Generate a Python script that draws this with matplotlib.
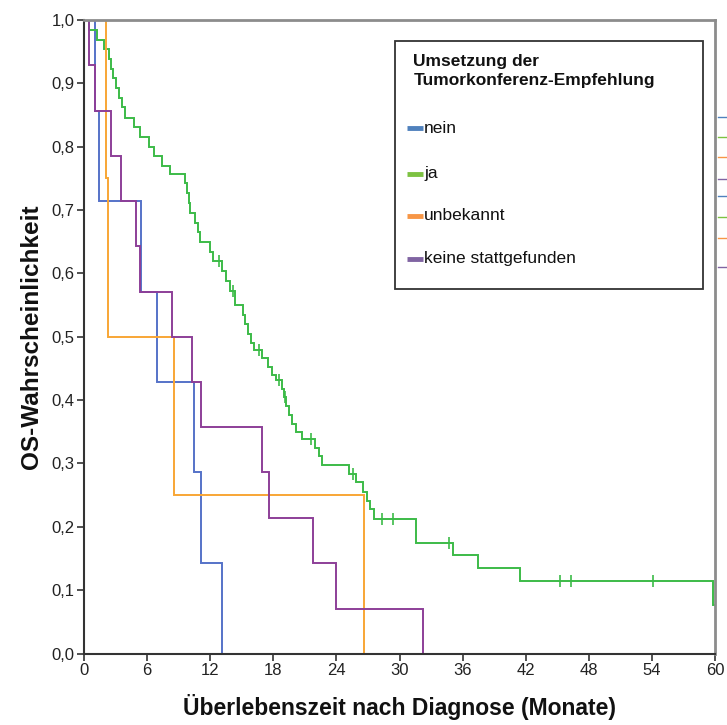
import numpy as np
import matplotlib
matplotlib.use("Agg")
import matplotlib.pyplot as plt
from matplotlib.lines import Line2D
from matplotlib.patches import Rectangle

plt.rcParams["font.family"] = ["Liberation Sans", "DejaVu Sans"]

# Kaplan-Meier steps (months, survival after the drop)
nein_t = [0, 1.0, 1.4, 5.4, 6.9, 10.5, 11.1, 13.1]
nein_s = [1.0, 0.857, 0.714, 0.571, 0.429, 0.286, 0.143, 0.0]

unbek_t = [0, 2.1, 2.3, 8.6, 26.6]
unbek_s = [1.0, 0.75, 0.5, 0.25, 0.0]

keine_t = [0, 0.45, 1.0, 2.6, 3.55, 4.9, 5.35, 8.4, 10.3, 11.1, 16.9, 17.6, 21.8, 24.0, 32.2]
keine_s = [1.0, 0.929, 0.857, 0.786, 0.714, 0.643, 0.571, 0.5, 0.429, 0.357, 0.286, 0.214,
           0.143, 0.071, 0.0]

ja_t = [0, 0.5, 1.2, 1.9, 2.4, 2.6, 2.8, 3.0, 3.3, 3.6, 3.9, 4.8, 5.3, 6.2, 6.7, 7.4, 8.2,
        9.6, 9.8, 9.95, 10.1, 10.6, 10.8, 11.0, 12.0, 12.3, 13.1, 13.5, 13.9, 14.35,
        15.1, 15.3, 15.6, 15.9, 16.2, 16.9, 17.5, 17.9, 18.3, 18.8, 19.0, 19.2, 19.5, 19.8,
        20.2, 20.7, 22.0, 22.3, 22.6, 25.2, 25.9, 26.5, 26.9, 27.2, 27.6, 31.6, 35.1, 37.5,
        41.5, 59.8, 60.0]
ja_s = [1.0, 0.985, 0.969, 0.954, 0.938, 0.923, 0.908, 0.892, 0.877, 0.862, 0.846, 0.831,
        0.815, 0.800, 0.785, 0.769, 0.757,
        0.742, 0.727, 0.711, 0.696, 0.680, 0.665, 0.650, 0.634, 0.619, 0.603, 0.588, 0.573,
        0.550, 0.535, 0.520, 0.505, 0.490, 0.479, 0.466, 0.452, 0.440, 0.431, 0.417, 0.405,
        0.390, 0.376, 0.363, 0.350, 0.338, 0.324, 0.311, 0.298, 0.284, 0.270, 0.255, 0.240,
        0.228, 0.213, 0.174, 0.155, 0.135, 0.115, 0.077, 0.077]
ja_censored = [12.8, 14.2, 16.6, 18.5, 19.1, 21.6, 25.6, 28.3, 29.4, 34.7, 45.3, 46.3, 54.1]

groups = ["nein", "ja", "unbekannt", "keine stattgefunden"]
line_colors = ["#5572c8", "#3cbb48", "#f8a635", "#8d3f98"]
legend_colors = ["#4f81bd", "#7dc242", "#f79646", "#8064a2"]
xticks = [0, 6, 12, 18, 24, 30, 36, 42, 48, 54, 60]
yticks = [0.0, 0.1, 0.2, 0.3, 0.4, 0.5, 0.6, 0.7, 0.8, 0.9, 1.0]

fig = plt.figure(figsize=(7.27, 7.25), dpi=100)
ax = fig.add_axes([84 / 727, 1 - 653.5 / 725, 631 / 727, 633.5 / 725])

curves = [(nein_t, nein_s), (ja_t, ja_s), (unbek_t, unbek_s), (keine_t, keine_s)]
for (t, s), c in zip(curves, line_colors):
    ax.step(t, s, where="post", color=c, lw=1.4, solid_joinstyle="miter")

# censor marks sit on the green curve
idx = np.searchsorted(ja_t, ja_censored, side="right") - 1
ax.plot(ja_censored, np.array(ja_s)[idx], ls="none", marker="|", ms=8, mew=1.2,
        color=line_colors[1])

ax.set_xlim(0, 60)
ax.set_ylim(0, 1.0)
ax.set_xticks(xticks)
ax.set_xticklabels([str(v) for v in xticks], fontsize=12, color="#222222")
ax.set_yticks(yticks)
ax.set_yticklabels([f"{v:.1f}".replace(".", ",") for v in yticks], fontsize=12,
                   color="#222222")
ax.tick_params(direction="out", length=5, width=1.2, color="#333333", pad=2)
ax.set_xlabel("Überlebenszeit nach Diagnose (Monate)", fontsize=16.5, fontweight="bold",
              labelpad=11, color="#111111")
ax.set_ylabel("OS-Wahrscheinlichkeit", fontsize=17.5, fontweight="bold", labelpad=6,
              color="#111111")
for s in ["left", "bottom"]:
    ax.spines[s].set_color("#333333")
    ax.spines[s].set_linewidth(1.5)
for s in ["top", "right"]:
    ax.spines[s].set_color("#8c8c8c")
    ax.spines[s].set_linewidth(2)

# legend box drawn by hand (axes fraction coordinates)
ax.add_patch(Rectangle((0.493, 0.575), 0.488, 0.392, transform=ax.transAxes,
                       fill=True, facecolor="white", edgecolor="#333333", lw=1.3,
                       zorder=5))
ax.text(0.522, 0.947, "Umsetzung der\nTumorkonferenz-Empfehlung", transform=ax.transAxes,
        fontsize=12.5, fontweight="bold", va="top", ha="left", linespacing=1.4,
        color="#111111", zorder=6)
entry_y = [0.8295, 0.757, 0.691, 0.623]
for g, c, y in zip(groups, legend_colors, entry_y):
    ax.add_line(Line2D([0.5114, 0.5368], [y, y], transform=ax.transAxes, color=c, lw=3.5,
                       solid_capstyle="butt", zorder=6))
    ax.text(0.539, y, g, transform=ax.transAxes, fontsize=12.5, va="center", ha="left",
            color="#111111", zorder=6)

# cut-off legend markers at the right border of the original picture
stub_y = [116.7, 137.3, 157.3, 179.3, 196, 217.3, 238.3, 267.3]
stub_c = ["#4f81bd", "#7dc242", "#f79646", "#8064a2"] * 2
for y, c in zip(stub_y, stub_c):
    fig.add_artist(Line2D([718 / 727, 727 / 727], [1 - y / 725, 1 - y / 725],
                          transform=fig.transFigure, color=c, lw=1))

fig.savefig("out.png", dpi=100, facecolor="white")
